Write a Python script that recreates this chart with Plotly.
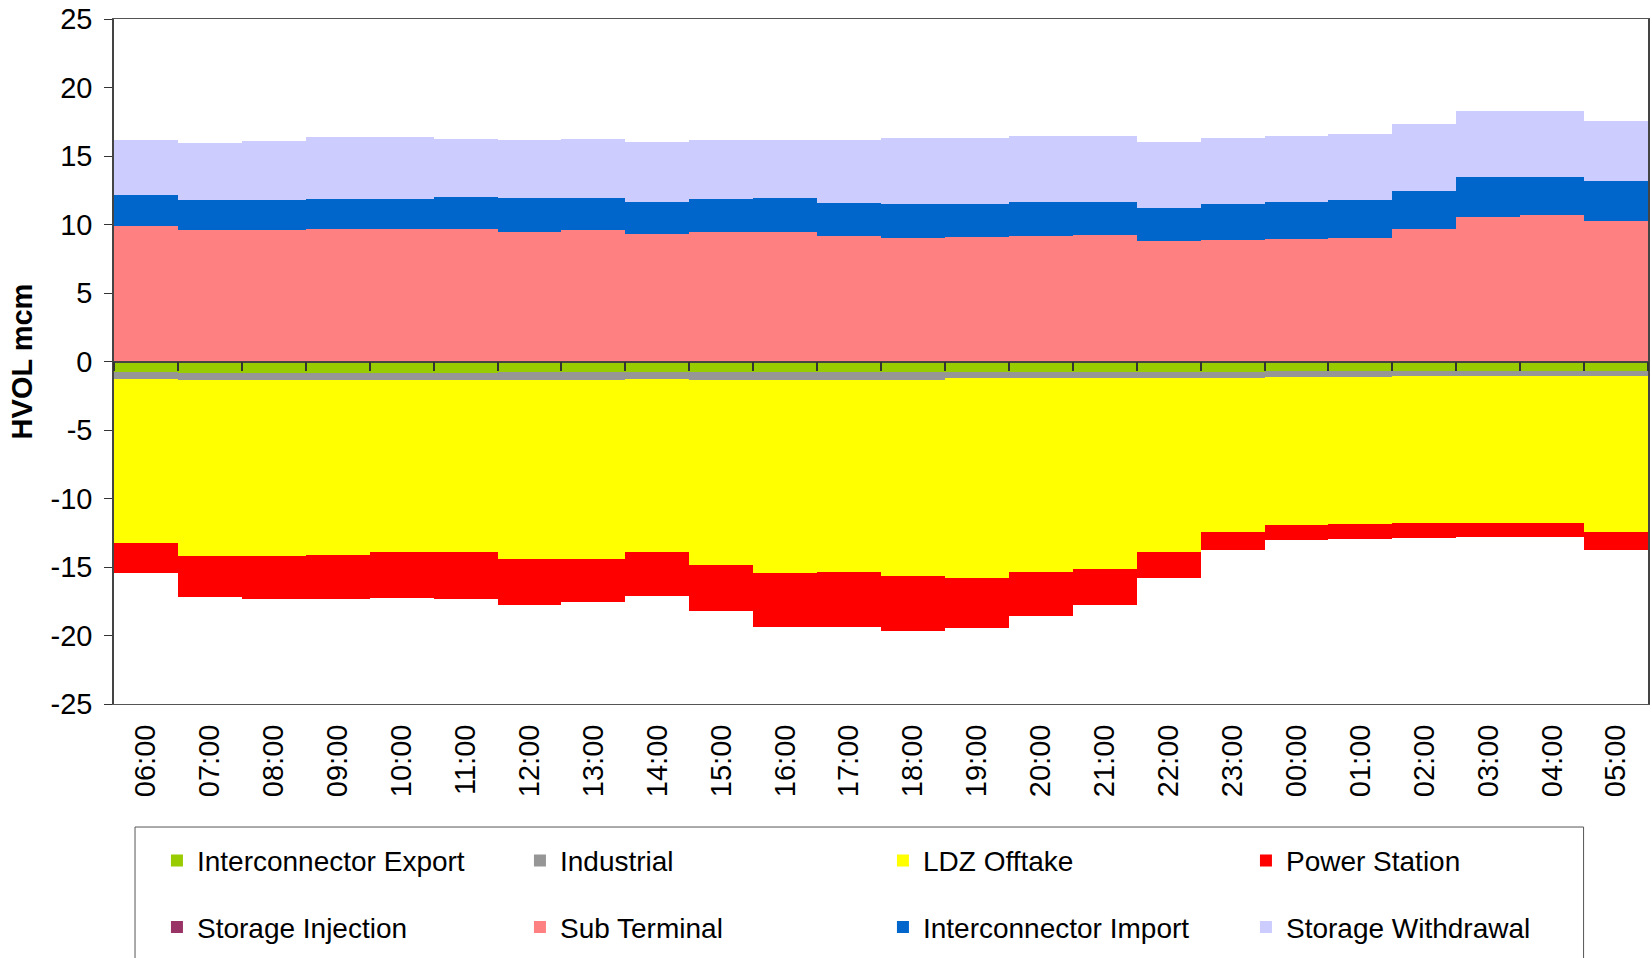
import plotly.graph_objects as go

hours = ["06:00", "07:00", "08:00", "09:00", "10:00", "11:00", "12:00", "13:00",
         "14:00", "15:00", "16:00", "17:00", "18:00", "19:00", "20:00", "21:00",
         "22:00", "23:00", "00:00", "01:00", "02:00", "03:00", "04:00", "05:00"]

y_tick_values = [-25, -20, -15, -10, -5, 0, 5, 10, 15, 20, 25]
y_tick_labels = ["-25", "-20", "-15", "-10", "-5", "0", "5", "10", "15", "20", "25"]

interconnector_export = [-0.78, -0.85, -0.85, -0.85, -0.85, -0.85, -0.80, -0.80,
                         -0.78, -0.78, -0.78, -0.78, -0.78, -0.78, -0.78, -0.78,
                         -0.78, -0.78, -0.71, -0.71, -0.66, -0.71, -0.71, -0.66]
industrial = [-0.51, -0.51, -0.51, -0.51, -0.51, -0.51, -0.56, -0.56,
              -0.51, -0.58, -0.58, -0.58, -0.58, -0.44, -0.44, -0.44,
              -0.44, -0.44, -0.44, -0.44, -0.41, -0.36, -0.36, -0.41]
ldz_offtake = [-11.99, -12.87, -12.87, -12.73, -12.58, -12.58, -13.02, -13.02,
               -12.65, -13.46, -14.11, -14.04, -14.33, -14.55, -14.18, -13.96,
               -12.72, -11.26, -10.76, -10.68, -10.75, -10.75, -10.75, -11.34]
power_station = [-2.19, -2.97, -3.12, -3.26, -3.33, -3.41, -3.41, -3.19,
                 -3.19, -3.40, -3.92, -3.99, -3.99, -3.69, -3.19, -2.61,
                 -1.88, -1.29, -1.14, -1.15, -1.08, -1.00, -1.00, -1.36]
storage_injection = [0.0] * 24
sub_terminal = [9.90, 9.61, 9.61, 9.68, 9.68, 9.68, 9.47, 9.61,
                9.32, 9.47, 9.47, 9.17, 9.03, 9.10, 9.17, 9.25,
                8.81, 8.88, 8.97, 8.98, 9.64, 10.58, 10.66, 10.29]
interconnector_import = [2.26, 2.19, 2.19, 2.19, 2.19, 2.33, 2.47, 2.33,
                         2.33, 2.40, 2.47, 2.41, 2.47, 2.40, 2.48, 2.40,
                         2.40, 2.62, 2.69, 2.84, 2.84, 2.92, 2.84, 2.85]
storage_withdrawal = [4.01, 4.15, 4.29, 4.51, 4.51, 4.23, 4.23, 4.30,
                      4.37, 4.30, 4.23, 4.59, 4.81, 4.81, 4.81, 4.81,
                      4.81, 4.83, 4.82, 4.82, 4.82, 4.75, 4.75, 4.45]

series = [
    ("Interconnector Export", interconnector_export, "#99CC00", "legend"),
    ("Industrial", industrial, "#969696", "legend"),
    ("LDZ Offtake", ldz_offtake, "#FFFF00", "legend"),
    ("Power Station", power_station, "#FF0000", "legend"),
    ("Storage Injection", storage_injection, "#993366", "legend2"),
    ("Sub Terminal", sub_terminal, "#FF8080", "legend2"),
    ("Interconnector Import", interconnector_import, "#0066CC", "legend2"),
    ("Storage Withdrawal", storage_withdrawal, "#CCCCFF", "legend2"),
]

FONT = "Liberation Sans, Arial, sans-serif"
TICK_SIZE = 29
LEG_SIZE = 28

fig = go.Figure()
for name, vals, color, lg in series:
    fig.add_trace(go.Bar(x=hours, y=vals, name=name, marker_color=color,
                         marker_line_width=0, legend=lg))

# dummy trace to carry the zero-line category axis
fig.add_trace(go.Scatter(x=hours, y=[None] * 24, xaxis="x2", showlegend=False,
                         hoverinfo="skip", mode="lines"))

fig.update_layout(
    width=1652, height=958,
    barmode="relative", bargap=0,
    plot_bgcolor="white", paper_bgcolor="white",
    margin=dict(l=114, r=2, t=19, b=254),
    font=dict(family=FONT, size=TICK_SIZE, color="black"),
    xaxis=dict(type="category", range=[-0.5, 23.5], showgrid=False,
               showline=True, mirror=True, linecolor="#555555", linewidth=1,
               ticks="", tickangle=-90, ticklabelstandoff=8,
               tickfont=dict(size=TICK_SIZE)),
    xaxis2=dict(type="category", range=[-0.5, 23.5], overlaying="x",
                anchor="free", position=0.5, side="bottom", showgrid=False,
                showline=True, linecolor="#444444", linewidth=1.5,
                ticks="outside", tickson="boundaries", ticklen=9,
                tickcolor="#333333", tickwidth=1.5, showticklabels=False),
    yaxis=dict(range=[-25, 25], tickvals=y_tick_values, ticktext=y_tick_labels,
               showgrid=False, zeroline=False,
               showline=True, mirror=True, linecolor="#444444", linewidth=1.5,
               ticks="outside", ticklen=8, tickcolor="#333333",
               ticklabelstandoff=6, tickfont=dict(size=TICK_SIZE),
               title=dict(text="<b>HVOL mcm</b>", font=dict(size=TICK_SIZE), standoff=9)),
    legend=dict(orientation="h", x=0.028, xanchor="left", y=-0.229,
                yanchor="middle", entrywidth=318, entrywidthmode="pixels",
                bgcolor="rgba(0,0,0,0)", borderwidth=0,
                font=dict(family=FONT, size=LEG_SIZE), traceorder="normal"),
    legend2=dict(orientation="h", x=0.028, xanchor="left", y=-0.326,
                 yanchor="middle", entrywidth=318, entrywidthmode="pixels",
                 bgcolor="rgba(0,0,0,0)", borderwidth=0,
                 font=dict(family=FONT, size=LEG_SIZE), traceorder="normal"),
    shapes=[dict(type="rect", xref="paper", yref="paper",
                 x0=0.0137, x1=0.958, y0=-0.55, y1=-0.1796,
                 line=dict(color="#555555", width=1), layer="below")],
    showlegend=True,
)

fig.write_html("out.html", config={"displayModeBar": False},
               post_script="document.body.style.margin='0';document.body.style.padding='0';")
